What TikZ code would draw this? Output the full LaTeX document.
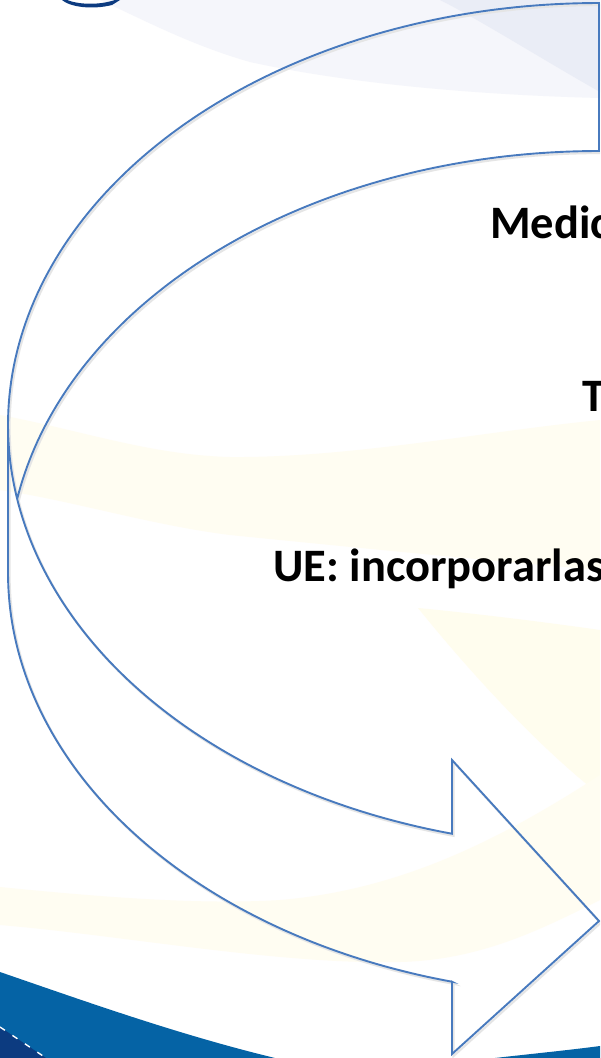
\documentclass[tikz,border=0pt]{standalone}
\usepackage{fontspec}
\setmainfont{Carlito}
\definecolor{arrowblue}{RGB}{72,122,190}
\definecolor{toplight}{RGB}{245,246,251}
\definecolor{topdark}{RGB}{234,237,246}
\definecolor{ylw}{RGB}{255,253,242}
\definecolor{ylwb}{RGB}{255,253,238}
\definecolor{midblue}{RGB}{5,99,165}
\definecolor{navyblue}{RGB}{12,59,128}
\newcommand{\curvedarrowoutline}{%
  (8,425)
  -- plot[domain=180:104.4,samples=90,variable=\t] ({599+591*cos(\t)},{425+422*sin(\t)})
  -- (452,760) -- (599,921) -- (452,1054) -- (452,981.7)
  -- plot[domain=104.4:180,samples=90,variable=\t] ({599+591*cos(\t)},{573+422*sin(\t)})
  -- (8,425)
  -- plot[domain=180:270,samples=90,variable=\t] ({599+591*cos(\t)},{425+422*sin(\t)})
  -- (599,151)
  -- plot[domain=270:190.1,samples=90,variable=\t] ({599+591*cos(\t)},{573+422*sin(\t)})}
\tikzset{
  arrowline/.style={draw=arrowblue, line width=1.9pt, line join=miter},
  shadowline/.style={draw=black!10, line width=2.2pt, line join=miter},
  txt/.style={inner sep=0pt, anchor=base west, font=\fontsize{46.5}{50}\selectfont\bfseries, text=black}
}
\begin{document}
\begin{tikzpicture}[x=1pt,y=-1pt]
\useasboundingbox (0,0) rectangle (600,1058);
\clip (0,0) rectangle (600,1058);
\fill[white] (0,0) rectangle (600,1058);
% top light swoosh
\fill[toplight] (100,0) .. controls (140,18) and (190,45) .. (250,62)
  .. controls (350,84) and (480,95) .. (600,98) -- (600,0) -- cycle;
\fill[topdark] (440,0) .. controls (480,20) and (540,58) .. (600,92) -- (600,0) -- cycle;
% logo fragment
\fill[navyblue] (62,0) .. controls (70,7) and (92,10) .. (112,5) -- (120,0) -- (115,0)
  .. controls (100,5) and (80,5) .. (67,0) -- cycle;
% yellow swooshes
\fill[ylw] (0,415) .. controls (80,430) and (150,455) .. (230,457)
  .. controls (350,458) and (480,432) .. (600,420) -- (600,570)
  .. controls (480,560) and (330,545) .. (230,535)
  .. controls (150,525) and (70,500) .. (0,490) -- cycle;
\fill[ylwb] (418,608) .. controls (460,660) and (530,740) .. (600,795) -- (600,630)
  .. controls (530,620) and (460,612) .. (418,608) -- cycle;
\fill[ylw] (0,887) .. controls (100,897) and (200,905) .. (280,900)
  .. controls (400,890) and (500,840) .. (600,775) -- (600,900)
  .. controls (540,930) and (480,960) .. (400,962)
  .. controls (280,965) and (120,935) .. (0,925) -- cycle;
% bottom blue waves
\fill[midblue] (0,972) .. controls (90,1003) and (180,1035) .. (275,1058) -- (0,1058) -- cycle;
\fill[navyblue] (0,1027) -- (46,1058) -- (0,1058) -- cycle;
\draw[white, line width=1.4pt, dash pattern=on 6pt off 9pt] (0,1027) -- (46,1058);
\fill[midblue] (495,1058) .. controls (530,1054) and (570,1050) .. (600,1046) -- (600,1058) -- cycle;
% curved arrow
\path[shadowline, shift={(1.5,2)}] \curvedarrowoutline;
\path[arrowline] \curvedarrowoutline;
% texts
\node[txt] (medic) at (490,238) {Medic};
\node[txt] (tee) at (582,411) {T};
\node[txt] (ue) at (273,581) {UE: incorporarlas};
\end{tikzpicture}
\end{document}
